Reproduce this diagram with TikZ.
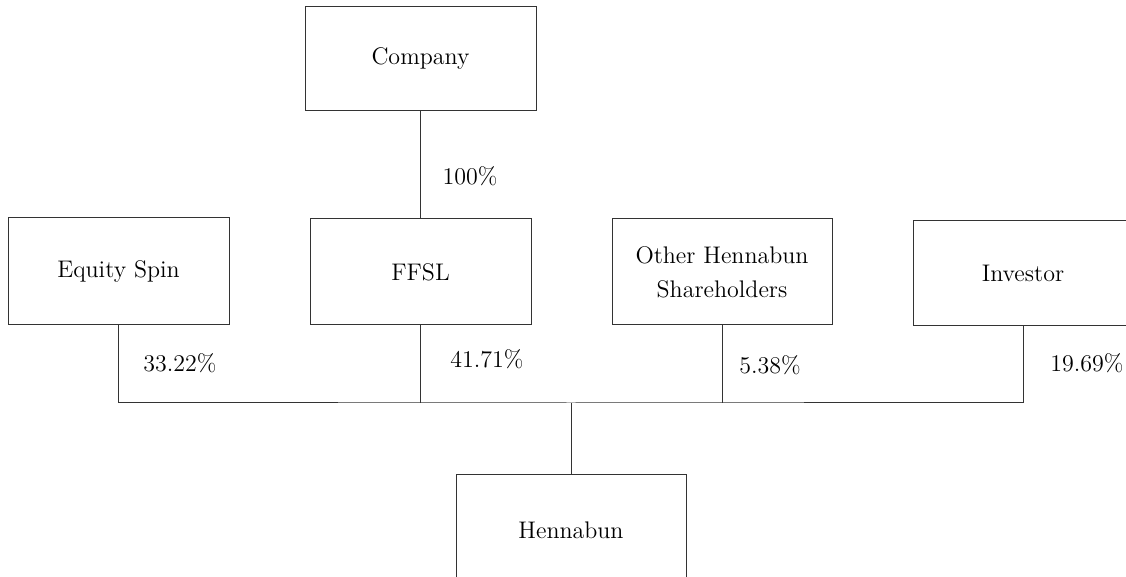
\documentclass[tikz,border=0pt]{standalone}
\usepackage{tikz}

\tikzset{
  entity/.style={draw=black!80, line width=0.5pt, rectangle, align=center,
    font=\fontsize{12}{17}\selectfont},
  share/.style={font=\fontsize{12}{17}\selectfont},
  link/.style={draw=black!80, line width=0.5pt}
}

\begin{document}
\begin{tikzpicture}[x=0.5pt,y=-0.5pt]

\useasboundingbox (0,0) rectangle (1126,577);
\clip (0,0) rectangle (1126,577);

\node [entity, minimum width=115.5pt, minimum height=52pt] (company) at (420.5,59) {Company};

\node [entity, minimum width=110.5pt, minimum height=53.5pt] (equity) at (118.5,271.5) {Equity Spin};
\node [entity, minimum width=110.5pt, minimum height=53pt] (ffsl) at (420.5,272) {FFSL};
\node [entity, minimum width=110pt, minimum height=53pt] (other) at (722,272) {Other Hennabun\\Shareholders};
\node [entity, minimum width=110pt, minimum height=52.5pt] (investor) at (1023,273.5) {Investor};

\node [entity, minimum width=115pt, minimum height=55pt] (hennabun) at (571,530) {Hennabun};

\coordinate (bus) at (571,403);

% ownership lines
\draw [link] (company) -- (ffsl);
\draw [link] (equity.south) |- (bus) -| (investor.south);
\draw [link] (ffsl.south) -- (ffsl.south |- bus);
\draw [link] (other.south) -- (other.south |- bus);
\draw [link] (bus) -- (hennabun.north);

\node [share] (p100) at (470,176) {100\%};
\node [share] (pequity) at (180,363) {33.22\%};
\node [share] (pffsl) at (487,359) {41.71\%};
\node [share] (pother) at (770,365) {5.38\%};
\node [share] (pinvestor) at (1087,363) {19.69\%};

\end{tikzpicture}
\end{document}
